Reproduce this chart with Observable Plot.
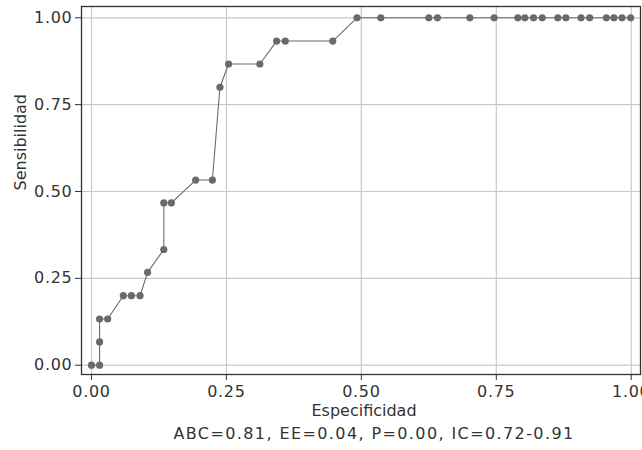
<!DOCTYPE html>
<html>
<head>
<meta charset="utf-8">
<script src="https://cdn.jsdelivr.net/npm/d3@7"></script>
<script src="https://cdn.jsdelivr.net/npm/@observablehq/plot@0.6"></script>
<style>
  body { margin: 0; background: #fff; }
  #chart svg { font-family: "DejaVu Sans", sans-serif; }
</style>
</head>
<body>
<div id="chart"></div>
<script>
const especificidad = [0, 0.015, 0.015, 0.015, 0.03, 0.059, 0.074, 0.09, 0.104, 0.134, 0.134, 0.148, 0.193, 0.224, 0.238, 0.254, 0.312, 0.343, 0.359, 0.447, 0.492, 0.536, 0.625, 0.641, 0.701, 0.746, 0.790, 0.803, 0.819, 0.835, 0.864, 0.879, 0.907, 0.923, 0.954, 0.968, 0.983, 0.999];
const sensibilidad = [0, 0, 0.067, 0.133, 0.133, 0.2, 0.2, 0.2, 0.267, 0.333, 0.467, 0.467, 0.533, 0.533, 0.8, 0.867, 0.867, 0.933, 0.933, 0.933, 1, 1, 1, 1, 1, 1, 1, 1, 1, 1, 1, 1, 1, 1, 1, 1, 1, 1];
const ticks = [0, 0.25, 0.5, 0.75, 1];
const xTitle = "Especificidad";
const yTitle = "Sensibilidad";
const caption = "ABC=0.81, EE=0.04, P=0.00, IC=0.72-0.91";

const data = especificidad.map((x, i) => ({x, y: sensibilidad[i]}));
const fmt = d3.format(".2f");

const plot = Plot.plot({
  width: 642,
  height: 450,
  marginLeft: 81,
  marginRight: 2,
  marginTop: 6,
  marginBottom: 76,
  style: {fontSize: "16px", fontFamily: "'DejaVu Sans', sans-serif", color: "#333"},
  x: {domain: [-0.0185, 1.0172]},
  y: {domain: [-0.0268, 1.0325]},
  marks: [
    Plot.gridX(ticks, {stroke: "#c8c8c8", strokeOpacity: 1, strokeWidth: 1.2}),
    Plot.gridY(ticks, {stroke: "#c8c8c8", strokeOpacity: 1, strokeWidth: 1.2}),
    Plot.axisX(ticks, {tickFormat: fmt, tickSize: 6, tickPadding: 5, label: null, stroke: "#333", fill: "#333", fontSize: 16}),
    Plot.axisY(ticks, {tickFormat: fmt, tickSize: 6, tickPadding: 3, label: null, stroke: "#333", fill: "#333", fontSize: 16}),
    Plot.line(data, {x: "x", y: "y", stroke: "#6a6a6a", strokeWidth: 1.1}),
    Plot.dot(data, {x: "x", y: "y", r: 3.6, fill: "#6a6a6a", stroke: "none"}),
    Plot.frame({stroke: "#333", strokeWidth: 1.3}),
    Plot.text([xTitle], {frameAnchor: "bottom", dx: 3, dy: 41, fontSize: 16, fill: "#333"}),
    Plot.text([caption], {frameAnchor: "bottom", dx: 13, dy: 64, fontSize: 16, fill: "#333"}),
    Plot.text([yTitle], {frameAnchor: "left", dx: -61, rotate: -90, fontSize: 16, fill: "#333"})
  ]
});
document.getElementById("chart").appendChild(plot);
d3.select(plot).selectAll("text").each(function() {
  const t = this.textContent;
  if (t === caption) d3.select(this).style("letter-spacing", "1.4px");
  else if (/^\d\.\d\d$/.test(t)) d3.select(this).style("letter-spacing", "0.7px");
});
</script>
</body>
</html>
